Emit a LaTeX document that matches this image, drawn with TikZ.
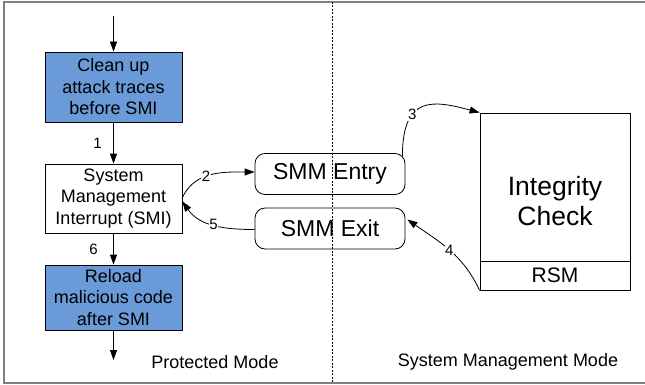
\documentclass[tikz,border=0pt]{standalone}
\usepackage{fontspec}
\setmainfont{Liberation Sans}
\usetikzlibrary{shapes,arrows.meta,positioning,calc}
\definecolor{atkblue}{RGB}{106,155,216}

\begin{document}
\begin{tikzpicture}[x=1pt,y=1pt,line width=0.8pt,
  >={Triangle[length=10pt,width=7pt]},
  pm/.style={rectangle, draw, minimum width=137pt, align=center, inner sep=0pt,
    font=\fontsize{18}{21.5}\selectfont},
  attack/.style={pm, fill=atkblue},
  smm/.style={rectangle, draw, rounded corners=10pt, minimum width=150pt,
    minimum height=41pt, font=\fontsize{23}{27}\selectfont},
  num/.style={fill=white, inner sep=0.5pt, font=\fontsize{15}{17}\selectfont},
  mode/.style={font=\fontsize{18}{21}\selectfont}]
\useasboundingbox (0,0) rectangle (645,-385);
\draw[gray, line width=1.5pt] (4,-2) rectangle (660,-383);
\draw[dashed, line width=0.6pt, dash pattern=on 2pt off 1.5pt] (332,-2) -- (332,-383);

\node[attack, minimum height=70pt] (clean) at (113.5,-87) {Clean up\\attack traces\\before SMI};
\node[pm, minimum height=69pt] (smi) at (113.5,-198.5) {System\\Management\\Interrupt (SMI)};
\node[attack, minimum height=65pt] (reload) at (113.5,-297.5) {Reload\\malicious code\\after SMI};
\coordinate (in) at (113.5,-16);
\coordinate (out) at (113.5,-360);

\node[smm] (entry) at (330,-174) {SMM Entry};
\node[smm] (exit) at (330,-228.5) {SMM Exit};

\node[rectangle, draw, minimum width=150pt, minimum height=177pt, align=center,
  font=\fontsize{26.5}{30}\selectfont] (integ) at (555,-201.5) {Integrity\\Check};
\node[rectangle, draw, minimum width=150pt, minimum height=29pt,
  font=\fontsize{21}{24}\selectfont] (rsm) at (555,-275.5) {RSM};

\node[mode] (pmode) at (215,-362) {Protected Mode};
\node[mode] (smode) at (508,-362) {System Management Mode};

\draw[->] (in) -- (clean);
\draw[->] (clean) -- node[num, left=11pt, fill=none] {1} (smi);
\draw[->] (smi) -- node[num, left=15pt, fill=none] {6} (reload);
\draw[->] (reload) -- (out);

\draw[->] ([yshift=1pt]smi.east) to[out=65,in=180]
  node[num, pos=0.42] {2} ([yshift=2pt]entry.west);
\draw[->] ([yshift=-1pt]exit.west) to[out=180,in=-55]
  node[num, pos=0.5] {5} ([yshift=-3pt]smi.east);
\draw[->] ([xshift=-3pt,yshift=-3pt]entry.north east) .. controls +(0,62) and +(-45,12) ..
  node[num, pos=0.33] {3} (integ.north west);
\draw[->] (rsm.south west) to[out=115,in=-35]
  node[num, pos=0.5] {4} ([xshift=2pt,yshift=9pt]exit.east);
\end{tikzpicture}
\end{document}
